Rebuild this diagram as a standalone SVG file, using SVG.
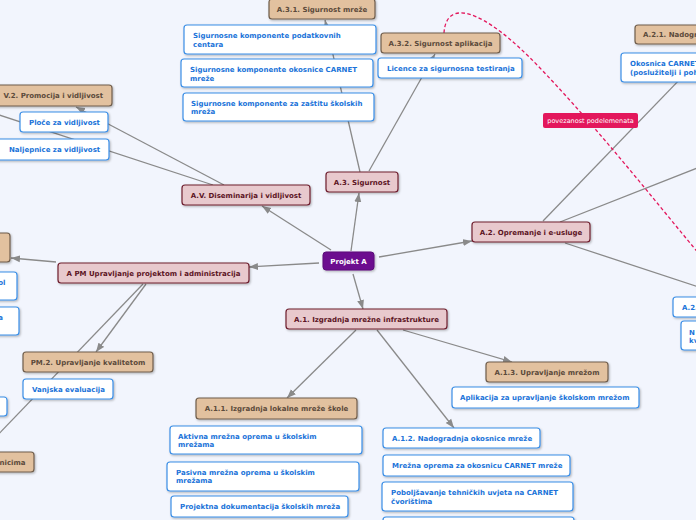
<svg xmlns="http://www.w3.org/2000/svg" width="696" height="520" viewBox="0 0 696 520">
<defs>
<filter id="sh" x="-10%" y="-20%" width="120%" height="150%">
<feDropShadow dx="1" dy="1.2" stdDeviation="0.8" flood-color="#000" flood-opacity="0.28"/>
</filter>
<marker id="ar" markerUnits="userSpaceOnUse" markerWidth="10" markerHeight="8" refX="9" refY="4" orient="auto">
<path d="M0,0.5 L9,4 L0,7.5 z" fill="#8a8a8a"/>
</marker>
<style>
.c{fill:none;stroke:#8a8a8a;stroke-width:1.3}
.ca{fill:none;stroke:#8a8a8a;stroke-width:1.3;marker-end:url(#ar)}
.rel{fill:none;stroke:#e3175c;stroke-width:1.3;stroke-dasharray:3.5 2.5}
.m rect{fill:#e8c9cd;stroke:#6e1f2e;stroke-width:1.2;filter:url(#sh)}
.m text{fill:#5c1424}
.t rect{fill:#e2c19f;stroke:#6f5d4b;stroke-width:1.2;filter:url(#sh)}
.t text{fill:#5b4a3b}
.w rect{fill:#ffffff;stroke:#3a8ee6;stroke-width:1.2;filter:url(#sh)}
.w text{fill:#1a73d9}
.p rect{fill:#6c0d8f;stroke:#5a0a78;stroke-width:1;filter:url(#sh)}
.p text{fill:#ffffff}
text{font-family:"DejaVu Sans",Verdana,sans-serif;font-size:7px;font-weight:bold}
.mid{text-anchor:middle}
.lbl rect{fill:#e3175c}
.lbl text{fill:#ffffff;font-weight:normal;font-size:6.5px;text-anchor:middle}
</style>
</defs>
<rect width="696" height="520" fill="#f2f5fd"/>

<g id="connectors">
<line class="ca" x1="351" y1="251" x2="359" y2="193"/>
<line class="ca" x1="379" y1="257" x2="472" y2="241"/>
<line class="ca" x1="353" y1="274" x2="363" y2="309"/>
<line class="ca" x1="331" y1="250" x2="262" y2="206"/>
<line class="ca" x1="319" y1="263" x2="249" y2="267"/>
<line class="ca" x1="56" y1="262" x2="11" y2="258"/>
<line class="ca" x1="146" y1="284" x2="96" y2="352"/>
<line class="c" x1="143" y1="284" x2="-10" y2="443"/>
<line class="ca" x1="224" y1="185" x2="76" y2="107"/>
<line class="c" x1="213" y1="185" x2="-10" y2="112"/>
<line class="ca" x1="360" y1="172" x2="325" y2="20"/>
<line class="ca" x1="369" y1="171" x2="435" y2="54"/>
<line class="ca" x1="543" y1="221" x2="713" y2="45"/>
<line class="c" x1="560" y1="222" x2="720" y2="159"/>
<line class="c" x1="565" y1="243" x2="720" y2="294"/>
<line class="ca" x1="356" y1="330" x2="287" y2="398"/>
<line class="ca" x1="403" y1="330" x2="512" y2="362"/>
<line class="ca" x1="377" y1="330" x2="454" y2="428"/>
<path class="rel" d="M444,33 C446,0 480,5 540,68 S650,195 700,255"/>
</g>

<g id="n-projekt" class="p"><rect x="323" y="252" width="51" height="18" rx="3"/><text class="mid" x="348.5" y="263.5">Projekt A</text></g>
<g id="n-a3" class="m"><rect x="326" y="172" width="72" height="20" rx="3"/><text class="mid" x="362" y="184.5">A.3. Sigurnost</text></g>
<g id="n-a2" class="m"><rect x="472" y="222" width="118" height="20" rx="3"/><text class="mid" x="531" y="234.5">A.2. Opremanje i e-usluge</text></g>
<g id="n-av" class="m"><rect x="182" y="185" width="128" height="20" rx="3"/><text class="mid" x="246" y="197.5">A.V. Diseminarija i vidljivost</text></g>
<g id="n-apm" class="m"><rect x="58" y="263" width="191" height="20" rx="3"/><text class="mid" x="153.5" y="275.5">A PM Upravljanje projektom i administracija</text></g>
<g id="n-a1" class="m"><rect x="286" y="309" width="161" height="20" rx="3"/><text class="mid" x="366.5" y="321.5">A.1. Izgradnja mrežne infrastrukture</text></g>

<g id="n-a31" class="t"><rect x="269" y="-1" width="106" height="20" rx="3"/><text class="mid" x="322" y="11.5">A.3.1. Sigurnost mreže</text></g>
<g id="n-a32" class="t"><rect x="381" y="33" width="119" height="20" rx="3"/><text class="mid" x="440.5" y="45.5">A.3.2. Sigurnost aplikacija</text></g>
<g id="n-a21" class="t"><rect x="635" y="25" width="100" height="19" rx="3"/><text x="643" y="37">A.2.1. Nadogr</text></g>
<g id="n-v2" class="t"><rect x="-30" y="85" width="142" height="21" rx="3"/><text x="3.5" y="98">V.2. Promocija i vidljivost</text></g>
<g id="n-lefttan" class="t"><rect x="-40" y="233" width="50" height="29" rx="3"/></g>
<g id="n-pm2" class="t"><rect x="23" y="352" width="130" height="20" rx="3"/><text class="mid" x="88" y="364.5">PM.2. Upravljanje kvalitetom</text></g>
<g id="n-nicima" class="t"><rect x="-60" y="452" width="94" height="20" rx="3"/><text x="25.5" y="464.5" style="text-anchor:end">nicima</text></g>
<g id="n-a11" class="t"><rect x="196" y="398" width="161" height="21" rx="3"/><text class="mid" x="276.5" y="411">A.1.1. Izgradnja lokalne mreže škole</text></g>
<g id="n-a13" class="t"><rect x="486" y="362" width="122" height="20" rx="3"/><text class="mid" x="547" y="374.5">A.1.3. Upravljanje mrežom</text></g>

<g id="n-skpc" class="w"><rect x="184" y="25" width="192" height="29" rx="3"/><text x="193" y="37.5">Sigurnosne komponente podatkovnih</text><text x="193" y="46.5">centara</text></g>
<g id="n-skoc" class="w"><rect x="181" y="59" width="192" height="28" rx="3"/><text x="190" y="71.5">Sigurnosne komponente okosnice CARNET</text><text x="190" y="80.5">mreže</text></g>
<g id="n-skzs" class="w"><rect x="183" y="93" width="191" height="28" rx="3"/><text x="191" y="105.5">Sigurnosne komponente za zaštitu školskih</text><text x="191" y="114">mreža</text></g>
<g id="n-lic" class="w"><rect x="378" y="58" width="144" height="20" rx="3"/><text x="387" y="70.5">Licence za sigurnosna testiranja</text></g>
<g id="n-okos" class="w"><rect x="621" y="53" width="100" height="29" rx="3"/><text x="630" y="65.5">Okosnica CARNET</text><text x="630" y="74.5">(poslužitelji i poh</text></g>
<g id="n-ploce" class="w"><rect x="20" y="112" width="88" height="20" rx="3"/><text x="29" y="124.5">Ploče za vidljivost</text></g>
<g id="n-nalj" class="w"><rect x="-5" y="139" width="114" height="21" rx="3"/><text x="9" y="152">Naljepnice za vidljivost</text></g>
<g id="n-ol" class="w"><rect x="-40" y="272" width="57" height="28" rx="3"/><text x="5.5" y="284.5" style="text-anchor:end">ol</text></g>
<g id="n-a" class="w"><rect x="-40" y="307" width="59" height="28" rx="3"/><text x="3" y="319.5" style="text-anchor:end">a</text></g>
<g id="n-vanj" class="w"><rect x="23" y="379" width="90" height="20" rx="3"/><text x="32" y="391.5">Vanjska evaluacija</text></g>
<g id="n-leftsmall" class="w"><rect x="-40" y="397" width="47" height="19" rx="3"/></g>
<g id="n-akt" class="w"><rect x="170" y="426" width="192" height="28" rx="3"/><text x="178" y="438.5">Aktivna mrežna oprema u školskim</text><text x="178" y="446.5">mrežama</text></g>
<g id="n-pas" class="w"><rect x="167" y="462" width="192" height="29" rx="3"/><text x="176" y="474.8">Pasivna mrežna oprema u školskim</text><text x="176" y="482.8">mrežama</text></g>
<g id="n-proj" class="w"><rect x="171" y="496" width="177" height="21" rx="3"/><text x="180" y="509">Projektna dokumentacija školskih mreža</text></g>
<g id="n-apl" class="w"><rect x="452" y="387" width="187" height="21" rx="3"/><text x="460" y="400">Aplikacija za upravljanje školskom mrežom</text></g>
<g id="n-a12" class="w"><rect x="383" y="428" width="157" height="20" rx="3"/><text x="392" y="440.5">A.1.2. Nadogradnja okosnice mreže</text></g>
<g id="n-mrop" class="w"><rect x="383" y="455" width="187" height="21" rx="3"/><text x="392" y="468">Mrežna oprema za okosnicu CARNET mreže</text></g>
<g id="n-pob" class="w"><rect x="382" y="482" width="191" height="29" rx="3"/><text x="391" y="495">Poboljšavanje tehničkih uvjeta na CARNET</text><text x="391" y="504">čvorištima</text></g>
<g id="n-bottom" class="w"><rect x="383" y="517" width="191" height="20" rx="3"/></g>
<g id="n-a2x" class="w"><rect x="673" y="297" width="40" height="20" rx="3"/><text x="682" y="309.5">A.2.</text></g>
<g id="n-nkv" class="w"><rect x="681" y="321" width="40" height="29" rx="3"/><text x="689" y="334.5">N</text><text x="689" y="342.5">kv</text></g>

<g id="rel-label" class="lbl"><rect x="543" y="113" width="95" height="15" rx="2"/><text x="590.5" y="123">povezanost podelemenata</text></g>
</svg>
